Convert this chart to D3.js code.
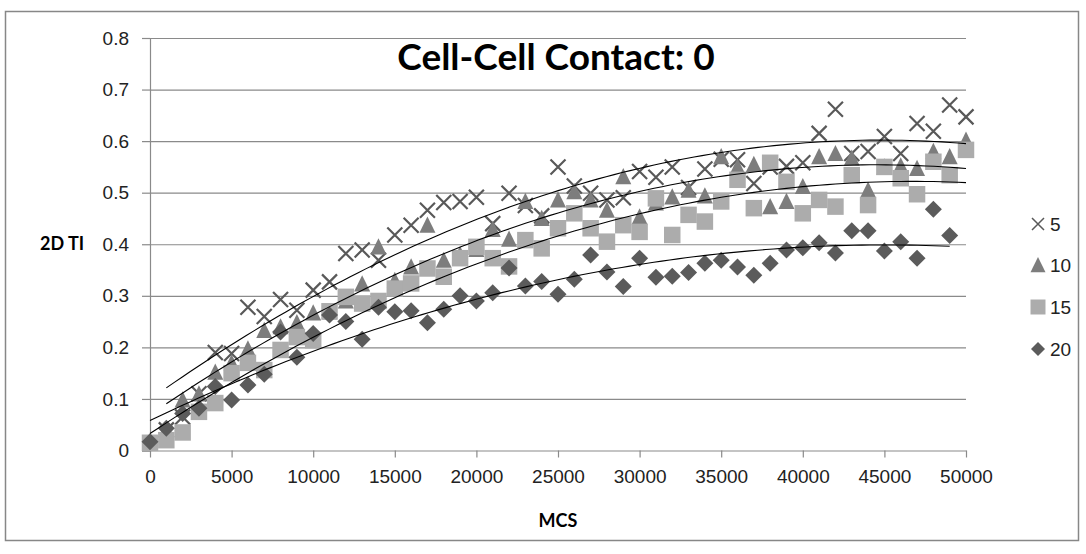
<!DOCTYPE html>
<html><head><meta charset="utf-8">
<script src="https://cdn.jsdelivr.net/npm/d3@7"></script>
<style>
html,body{margin:0;padding:0;background:#fff;}
svg{display:block;}
</style></head>
<body>
<svg id="chart" width="1086" height="554"></svg>
<script>
// ---------------- data ----------------
const titleText = "Cell-Cell Contact: 0";
const xTitle = "MCS";
const yTitle = "2D TI";
const mcs = [0,1000,2000,3000,4000,5000,6000,7000,8000,9000,10000,11000,12000,13000,14000,15000,16000,17000,18000,19000,20000,21000,22000,23000,24000,25000,26000,27000,28000,29000,30000,31000,32000,33000,34000,35000,36000,37000,38000,39000,40000,41000,42000,43000,44000,45000,46000,47000,48000,49000,50000];
const seriesNames = ["5","10","15","20"];
const s5  = [null,0.04,0.065,0.11,0.19,0.188,0.278,0.26,0.293,0.272,0.311,0.327,0.382,0.389,0.369,0.418,0.437,0.466,0.481,0.483,0.491,0.44,0.499,0.475,0.455,0.55,0.513,0.499,0.486,0.49,0.541,0.53,0.55,0.51,0.546,0.565,0.564,0.518,0.55,0.551,0.558,0.615,0.662,0.576,0.58,0.609,0.576,0.634,0.619,0.67,0.647];
const s10 = [null,0.04,0.098,0.11,0.152,0.17,0.197,0.233,0.24,0.248,0.267,0.269,0.29,0.323,0.395,0.33,0.356,0.437,0.369,0.38,0.39,0.429,0.41,0.483,0.45,0.486,0.502,0.486,0.466,0.531,0.453,0.48,0.492,0.505,0.494,0.57,0.55,0.555,0.473,0.483,0.512,0.57,0.576,0.567,0.505,0.55,0.552,0.547,0.58,0.57,0.602];
const s15 = [0.015,0.02,0.035,0.075,0.092,0.15,0.17,0.156,0.195,0.22,0.214,0.27,0.298,0.285,0.29,0.314,0.324,0.353,0.337,0.373,0.395,0.373,0.357,0.408,0.392,0.431,0.46,0.431,0.405,0.437,0.424,0.489,0.418,0.457,0.444,0.483,0.525,0.47,0.558,0.521,0.46,0.486,0.473,0.534,0.476,0.55,0.528,0.497,0.56,0.534,0.583];
const s20 = [0.017,0.043,0.072,0.082,0.124,0.098,0.127,0.148,0.23,0.181,0.227,0.263,0.25,0.216,0.278,0.269,0.271,0.248,0.274,0.30,0.29,0.306,0.354,0.319,0.328,0.303,0.332,0.379,0.346,0.318,0.373,0.336,0.338,0.345,0.363,0.369,0.356,0.34,0.363,0.389,0.393,0.403,0.383,0.426,0.426,0.387,0.405,0.373,0.468,0.417,null];
const xTicks = [0,5000,10000,15000,20000,25000,30000,35000,40000,45000,50000];
const xTickLabels = ["0","5000","10000","15000","20000","25000","30000","35000","40000","45000","50000"];
const yTicks = [0,0.1,0.2,0.3,0.4,0.5,0.6,0.7,0.8];
const yTickLabels = ["0","0.1","0.2","0.3","0.4","0.5","0.6","0.7","0.8"];

// ---------------- setup ----------------
const svg = d3.select("#chart");
const plot = {left:150, right:966, top:38, bottom:450.5};
const x = d3.scaleLinear().domain([0,50000]).range([plot.left, plot.right]);
const y = d3.scaleLinear().domain([0,0.8]).range([plot.bottom, plot.top]);
const gridColor = "#8a8a8a";
const tickFont = "'Liberation Sans', Arial, sans-serif";
const boldFont = "Lato, 'Liberation Sans', sans-serif";

// outer border
svg.append("rect").attr("x",5.5).attr("y",11.5).attr("width",1073).attr("height",529)
  .attr("fill","#fff").attr("stroke","#878787").attr("stroke-width",1.5);

// gridlines
const grid = svg.append("g").attr("transform",`translate(${plot.left},0)`)
  .call(d3.axisLeft(y).tickValues(yTicks.filter(v=>v>0)).tickSize(-(plot.right-plot.left)).tickFormat(""));
grid.select(".domain").remove();
grid.selectAll("line").attr("stroke",gridColor).attr("stroke-width",1.2);

// y axis
const yAx = svg.append("g").attr("transform",`translate(${plot.left},0)`)
  .call(d3.axisLeft(y).tickValues(yTicks).tickSize(8).tickPadding(13).tickFormat((d,i)=>yTickLabels[i]));
yAx.select(".domain").attr("stroke",gridColor).attr("stroke-width",1.2);
yAx.selectAll("line").attr("stroke",gridColor).attr("stroke-width",1.2);
yAx.selectAll("text").attr("font-family",tickFont).attr("font-size",19).attr("fill","#222");

// x axis
const xAx = svg.append("g").attr("transform",`translate(0,${plot.bottom})`)
  .call(d3.axisBottom(x).tickValues(xTicks).tickSize(7).tickSizeOuter(0).tickFormat((d,i)=>xTickLabels[i]));
xAx.select(".domain").attr("stroke",gridColor).attr("stroke-width",1.2);
xAx.selectAll("line").attr("stroke",gridColor).attr("stroke-width",1.2);
xAx.selectAll("text").attr("font-family",tickFont).attr("font-size",19).attr("fill","#222")
  .attr("y",26).attr("dy","0.35em");

// ---------------- custom symbols ----------------
const symX = {draw(ctx,size){const r=Math.sqrt(size)/2; ctx.moveTo(-r,-r);ctx.lineTo(r,r);ctx.moveTo(-r,r);ctx.lineTo(r,-r);}};
const symTri = {draw(ctx,size){const s=Math.sqrt(size); const h=s*0.95; ctx.moveTo(0,-h/2-1);ctx.lineTo(s/2,h/2);ctx.lineTo(-s/2,h/2);ctx.closePath();}};
const symSq = {draw(ctx,size){const s=Math.sqrt(size)/2; ctx.rect(-s,-s,2*s,2*s);}};
const symDia = {draw(ctx,size){const r=Math.sqrt(size)/2; ctx.moveTo(0,-r);ctx.lineTo(r,0);ctx.lineTo(0,r);ctx.lineTo(-r,0);ctx.closePath();}};

const styles = [
  {type:symX,  size:15*15, fill:"none",    stroke:"#595959", sw:2.2},
  {type:symTri,size:16*16, fill:"#7d7d7d", stroke:"none", sw:0},
  {type:symSq, size:16.5*16.5, fill:"#acacac", stroke:"none", sw:0},
  {type:symDia,size:17*17, fill:"#5b5b5b", stroke:"none", sw:0}
];
const allSeries = [s5,s10,s15,s20];

const marks = svg.append("g");
allSeries.forEach((vals,si)=>{
  const st = styles[si];
  const pts = mcs.map((m,i)=>({x:m,y:vals[i]})).filter(d=>d.y!=null);
  marks.append("g").selectAll("path").data(pts).join("path")
    .attr("transform",d=>`translate(${x(d.x)},${y(d.y)})`)
    .attr("d",d3.symbol().type(st.type).size(st.size))
    .attr("fill",st.fill).attr("stroke",st.stroke).attr("stroke-width",st.sw);
});

// ---------------- polynomial (order 2) trendlines ----------------
function quadFit(pts){
  let S=[0,0,0,0,0], T=[0,0,0];
  pts.forEach(p=>{const xs=p.x/10000; let xp=1; for(let k=0;k<5;k++){S[k]+=xp; if(k<3)T[k]+=xp*p.y; xp*=xs;}});
  const A=[[S[0],S[1],S[2]],[S[1],S[2],S[3]],[S[2],S[3],S[4]]];
  const b=T.slice();
  for(let i=0;i<3;i++){for(let j=i+1;j<3;j++){const f=A[j][i]/A[i][i]; for(let k=i;k<3;k++)A[j][k]-=f*A[i][k]; b[j]-=f*b[i];}}
  const c=[0,0,0];
  for(let i=2;i>=0;i--){let s=b[i]; for(let k=i+1;k<3;k++)s-=A[i][k]*c[k]; c[i]=s/A[i][i];}
  return xv=>{const xs=xv/10000; return c[0]+c[1]*xs+c[2]*xs*xs;};
}
const trend = svg.append("g");
allSeries.forEach(vals=>{
  const pts = mcs.map((m,i)=>({x:m,y:vals[i]})).filter(d=>d.y!=null);
  const f = quadFit(pts);
  const x0 = d3.min(pts,d=>d.x), x1 = d3.max(pts,d=>d.x);
  const samples = d3.range(0,101).map(i=>x0+(x1-x0)*i/100);
  trend.append("path").datum(samples)
    .attr("d",d3.line().x(d=>x(d)).y(d=>y(f(d))))
    .attr("fill","none").attr("stroke","#000").attr("stroke-width",1.1);
});

// ---------------- titles ----------------
svg.append("text").attr("x",556).attr("y",70).attr("text-anchor","middle")
  .attr("font-family",boldFont).attr("font-weight","bold").attr("font-size",37)
  .attr("fill","#000").text(titleText);
svg.append("text").attr("x",558).attr("y",521).attr("dy","0.35em").attr("text-anchor","middle")
  .attr("font-family",boldFont).attr("font-weight","bold").attr("font-size",18).attr("fill","#000").text(xTitle);
svg.append("text").attr("x",62).attr("y",244).attr("dy","0.35em").attr("text-anchor","middle")
  .attr("font-family",boldFont).attr("font-weight","bold").attr("font-size",18).attr("fill","#000").text(yTitle);

// ---------------- legend ----------------
const legY = [224,265,307,349];
const legSizes = [12*12, 15*15, 15*15, 14*14];
const leg = svg.append("g");
seriesNames.forEach((nm,i)=>{
  const st = styles[i];
  leg.append("path").attr("transform",`translate(1038,${legY[i]})`)
    .attr("d",d3.symbol().type(st.type).size(legSizes[i]))
    .attr("fill",st.fill).attr("stroke",st.stroke).attr("stroke-width",i===0?1.5:0);
  leg.append("text").attr("x",1050).attr("y",legY[i]).attr("dy","0.35em")
    .attr("font-family",tickFont).attr("font-size",19).attr("fill","#222").text(nm);
});
</script>
</body></html>
